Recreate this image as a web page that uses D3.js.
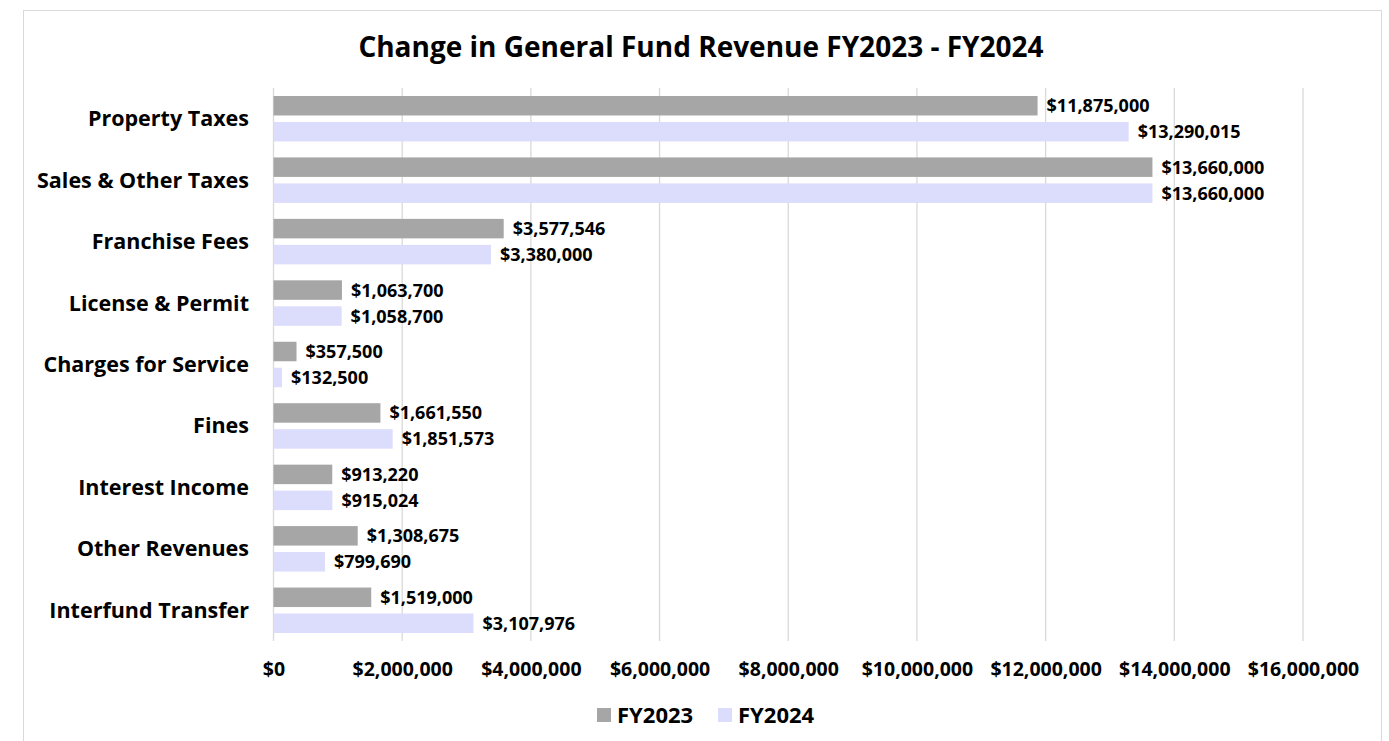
<!DOCTYPE html>
<html>
<head>
<meta charset="utf-8">
<script src="https://cdn.jsdelivr.net/npm/d3@7"></script>
<style>
  body { margin: 0; background: #fff; }
  svg text { font-family: "Open Sans", Lato, sans-serif; font-weight: bold; fill: #000; }
</style>
</head>
<body>
<svg width="1389" height="741"></svg>
<script>
const categories = ["Property Taxes", "Sales & Other Taxes", "Franchise Fees", "License & Permit",
  "Charges for Service", "Fines", "Interest Income", "Other Revenues", "Interfund Transfer"];
const seriesNames = ["FY2023", "FY2024"];
const fy2023 = [11875000, 13660000, 3577546, 1063700, 357500, 1661550, 913220, 1308675, 1519000];
const fy2024 = [13290015, 13660000, 3380000, 1058700, 132500, 1851573, 915024, 799690, 3107976];
const xTicks = [0, 2000000, 4000000, 6000000, 8000000, 10000000, 12000000, 14000000, 16000000];
const colors = ["#a6a6a6", "#dcdcfc"];

let svg = d3.select("svg");
let plotLeft = 273.5, plotRight = 1303, plotTop = 88, plotBottom = 641;

// chart frame
svg.append("rect")
  .attr("x", 23.5).attr("y", 10.5).attr("width", 1358).attr("height", 740)
  .attr("fill", "none").attr("stroke", "#d9d9d9").attr("stroke-width", 1);

svg.append("text")
  .attr("x", 701).attr("y", 57)
  .attr("text-anchor", "middle")
  .style("font-size", "28px")
  .text("Change in General Fund Revenue FY2023 - FY2024");

let x = d3.scaleLinear().domain([0, 16000000]).range([plotLeft, plotRight]);
let y = d3.scaleBand().domain(categories).range([plotTop, plotBottom]).paddingInner(0.26).paddingOuter(0.13);
let sub = d3.scaleBand().domain(seriesNames).range([0, y.bandwidth()]).paddingInner(0.25);

// gridlines
svg.append("g").attr("class", "grid")
  .selectAll("line").data(xTicks).enter().append("line")
    .attr("x1", d => x(d)).attr("x2", d => x(d))
    .attr("y1", plotTop).attr("y2", plotBottom)
    .attr("stroke", "#d9d9d9").attr("stroke-width", 1.3);

// x axis labels
let xAxis = d3.axisBottom(x).tickValues(xTicks).tickSize(0).tickPadding(0)
  .tickFormat(d => "$" + d3.format(",")(d));
let gx = svg.append("g").attr("transform", `translate(0,${plotBottom + 35})`).call(xAxis);
gx.select(".domain").remove();
gx.selectAll("text").style("font-size", "19.5px").attr("dy", "0");

// category labels
let yAxis = d3.axisLeft(y).tickSize(0).tickPadding(0);
let gy = svg.append("g").attr("transform", `translate(249,0)`).call(yAxis);
gy.select(".domain").remove();
gy.selectAll("text").style("font-size", "21.5px").attr("dy", "0.35em");

let rows = categories.map((c, i) => ({ cat: c, vals: [fy2023[i], fy2024[i]] }));

let groups = svg.append("g").selectAll("g").data(rows).enter().append("g")
  .attr("transform", d => `translate(0,${y(d.cat)})`);

groups.selectAll("rect")
  .data(d => d.vals.map((v, j) => ({ s: seriesNames[j], v: v, j: j })))
  .enter().append("rect")
    .attr("x", x(0))
    .attr("y", d => sub(d.s))
    .attr("width", d => x(d.v) - x(0))
    .attr("height", sub.bandwidth())
    .attr("fill", d => colors[d.j]);

groups.selectAll("text.val")
  .data(d => d.vals.map((v, j) => ({ s: seriesNames[j], v: v })))
  .enter().append("text").attr("class", "val")
    .attr("x", d => x(d.v) + 9)
    .attr("y", d => sub(d.s) + sub.bandwidth() / 2)
    .attr("dy", "0.36em")
    .style("font-size", "18px")
    .text(d => "$" + d3.format(",")(d.v));

// legend
let legend = svg.append("g").selectAll("g").data(seriesNames).enter().append("g")
  .attr("transform", (d, i) => `translate(${597 + i * 121},708)`);
legend.append("rect").attr("width", 14).attr("height", 14).attr("fill", (d, i) => colors[i]);
legend.append("text").attr("x", 20).attr("y", 7).attr("dy", "0.36em")
  .style("font-size", "22px").text(d => d);
</script>
</body>
</html>
